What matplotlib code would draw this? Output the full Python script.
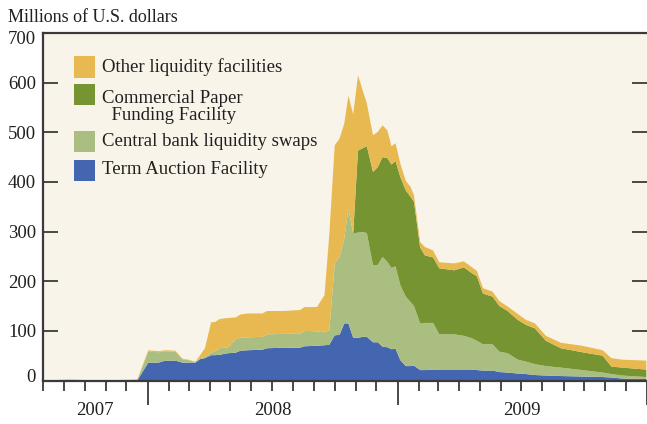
import numpy as np
import pandas as pd
import matplotlib
matplotlib.use("Agg")
import matplotlib.pyplot as plt
import matplotlib.dates as mdates
import matplotlib.transforms as mtransforms
from matplotlib.patches import Rectangle

# Weekly-ish levels
dates = ["2007-08-01", "2007-09-10", "2007-10-20", "2007-12-17",
         "2008-01-02", "2008-01-17", "2008-01-27", "2008-02-11", "2008-02-21",
         "2008-03-01", "2008-03-11", "2008-03-18", "2008-03-25", "2008-04-03",
         "2008-04-09", "2008-04-16", "2008-04-28", "2008-05-09", "2008-05-16",
         "2008-05-27", "2008-06-17", "2008-06-24", "2008-07-19", "2008-08-11",
         "2008-08-18", "2008-09-05", "2008-09-16", "2008-09-23", "2008-10-01",
         "2008-10-08", "2008-10-15", "2008-10-21", "2008-10-28", "2008-11-04",
         "2008-11-11", "2008-11-17", "2008-11-26", "2008-12-03", "2008-12-10",
         "2008-12-17", "2008-12-23", "2008-12-29",
         "2009-01-05", "2009-01-13", "2009-01-20", "2009-01-25", "2009-02-03",
         "2009-02-10", "2009-02-22", "2009-03-03", "2009-03-25", "2009-04-08",
         "2009-04-20", "2009-04-27", "2009-05-06", "2009-05-20", "2009-05-30",
         "2009-06-11", "2009-06-26", "2009-07-08", "2009-07-21", "2009-08-06",
         "2009-08-28", "2009-09-28", "2009-10-28", "2009-11-10", "2009-11-26",
         "2009-12-31"]

taf = [0, 0, 0, 0,
       36, 36, 40, 40, 36, 36, 36, 43, 45, 51, 51, 52, 55, 56, 60, 61, 62, 65,
       66, 66, 69, 70, 71, 72, 91, 92, 115, 115, 86, 86, 88, 88, 77, 77, 68,
       67, 63, 64,
       41, 29, 29, 30, 21, 21, 22, 22, 22, 22, 22, 21, 20, 20, 17, 16, 14, 13,
       11, 10, 9, 8, 7, 6, 4, 3]

swaps = [0, 0, 0, 0,
         22, 21, 19, 18, 7, 5, 1, 2, 3, 5, 8, 13, 12, 27, 26, 26, 26, 28,
         28, 28, 31, 29, 26, 29, 145, 157, 171, 231, 210, 212, 211, 209, 155,
         156, 181, 172, 164, 166,
         151, 140, 129, 120, 94, 95, 94, 71, 71, 68, 63, 59, 53, 53, 41, 39,
         28, 25, 22, 19, 17, 13, 9, 7, 6, 4]

cpff = [0, 0, 0, 0,
        0, 0, 0, 0, 0, 0, 0, 0, 0, 0, 0, 0, 0, 0, 0, 0, 0, 0,
        0, 0, 0, 0, 0, 0, 0, 0, 0, 0, 0, 165, 169, 175, 188, 197, 201,
        209, 208, 212,
        218, 214, 212, 210, 153, 136, 132, 133, 129, 138, 131, 130, 102, 96,
        92, 85, 80, 74, 72, 51, 39, 36, 34, 15, 16, 15]

other = [0, 2, 0, 2,
         3, 2, 2, 2, 1, 1, 1, 6, 17, 61, 59, 59, 59, 44, 47, 48, 47, 47,
         46, 48, 48, 49, 75, 192, 238, 238, 232, 228, 240, 152, 116, 86, 74,
         71, 64, 56, 37, 36,
         27, 19, 20, 13, 11, 17, 14, 12, 14, 12, 12, 11, 11, 10, 10, 9, 12, 10,
         10, 10, 11, 13, 11, 17, 16, 18]

labels = ["Term Auction Facility", "Central bank liquidity swaps",
          "Commercial Paper\n  Funding Facility", "Other liquidity facilities"]
colors = ["#4466B0", "#ABBE82", "#769432", "#E8B950"]
years = [("2007", "2007-08-01", "2008-01-01"),
         ("2008", "2008-01-01", "2009-01-01"),
         ("2009", "2009-01-01", "2010-01-01")]

plt.rcParams['font.family'] = ['Liberation Serif', 'DejaVu Serif']
ink = "#231F20"
spine_c = "#3A3A3A"

W, H = 647, 424
fig = plt.figure(figsize=(W / 100, H / 100), dpi=100)
ax = fig.add_axes([43 / W, 1 - 380.5 / H, (W - 43) / W, (380.5 - 33) / H])
ax.set_facecolor("#F8F4EA")

x = pd.to_datetime(dates)
ax.stackplot(x, taf, swaps, cpff, other, colors=colors, linewidth=0)

ax.set_xlim(pd.Timestamp("2007-08-01"), pd.Timestamp("2010-01-01"))
ax.set_ylim(0, 700)

# spines
for s in ("left", "top", "bottom"):
    ax.spines[s].set_color(spine_c)
    ax.spines[s].set_linewidth(1.6)
ax.spines["right"].set_visible(False)

# y ticks on both sides, pointing in
ax.set_yticks(np.arange(0, 701, 100))
ax.tick_params(axis="y", which="major", direction="in", length=11,
               width=1.3, color=spine_c, labelsize=13.5, labelcolor=ink,
               pad=5, right=True)
# end labels sit inside the axis range
ylabs = ax.get_yticklabels()
ylabs[0].set_transform(ylabs[0].get_transform() +
                       mtransforms.ScaledTranslation(0, 5 / 100, fig.dpi_scale_trans))
ylabs[-1].set_transform(ylabs[-1].get_transform() +
                        mtransforms.ScaledTranslation(0, -5 / 100, fig.dpi_scale_trans))

# x ticks: months short, year boundaries long, pointing out
ax.xaxis.set_major_locator(mdates.YearLocator())
ax.xaxis.set_minor_locator(mdates.MonthLocator())
ax.xaxis.set_major_formatter(plt.NullFormatter())
ax.tick_params(axis="x", which="minor", direction="out", length=7,
               width=1.3, color=spine_c)
ax.tick_params(axis="x", which="major", direction="out", length=17,
               width=1.3, color=spine_c)

trans = mtransforms.blended_transform_factory(ax.transData, ax.transAxes)
for name, a, b in years:
    mid = pd.Timestamp(a) + (pd.Timestamp(b) - pd.Timestamp(a)) / 2
    ax.text(mid, -0.085, name, transform=trans, ha="center", va="center",
            fontsize=13.5, color=ink)

fig.text(8 / W, 1 - 17 / H, "Millions of U.S. dollars", ha="left",
         va="center", fontsize=13, color=ink)

# legend drawn by hand, top to bottom
rows = [(3, 67, 67), (2, 107, 94), (1, 141, 141), (0, 170, 170)]
for i, ytxt, ybox in rows:
    fig.patches.append(Rectangle((74 / W, 1 - (ybox + 10.5) / H), 21 / W,
                                 21 / H, transform=fig.transFigure,
                                 facecolor=colors[i], edgecolor="none"))
    fig.text(102 / W, 1 - ytxt / H, labels[i], ha="left", va="center",
             fontsize=13.5, color=ink, linespacing=1.0)

fig.savefig("out.png", dpi=100)
